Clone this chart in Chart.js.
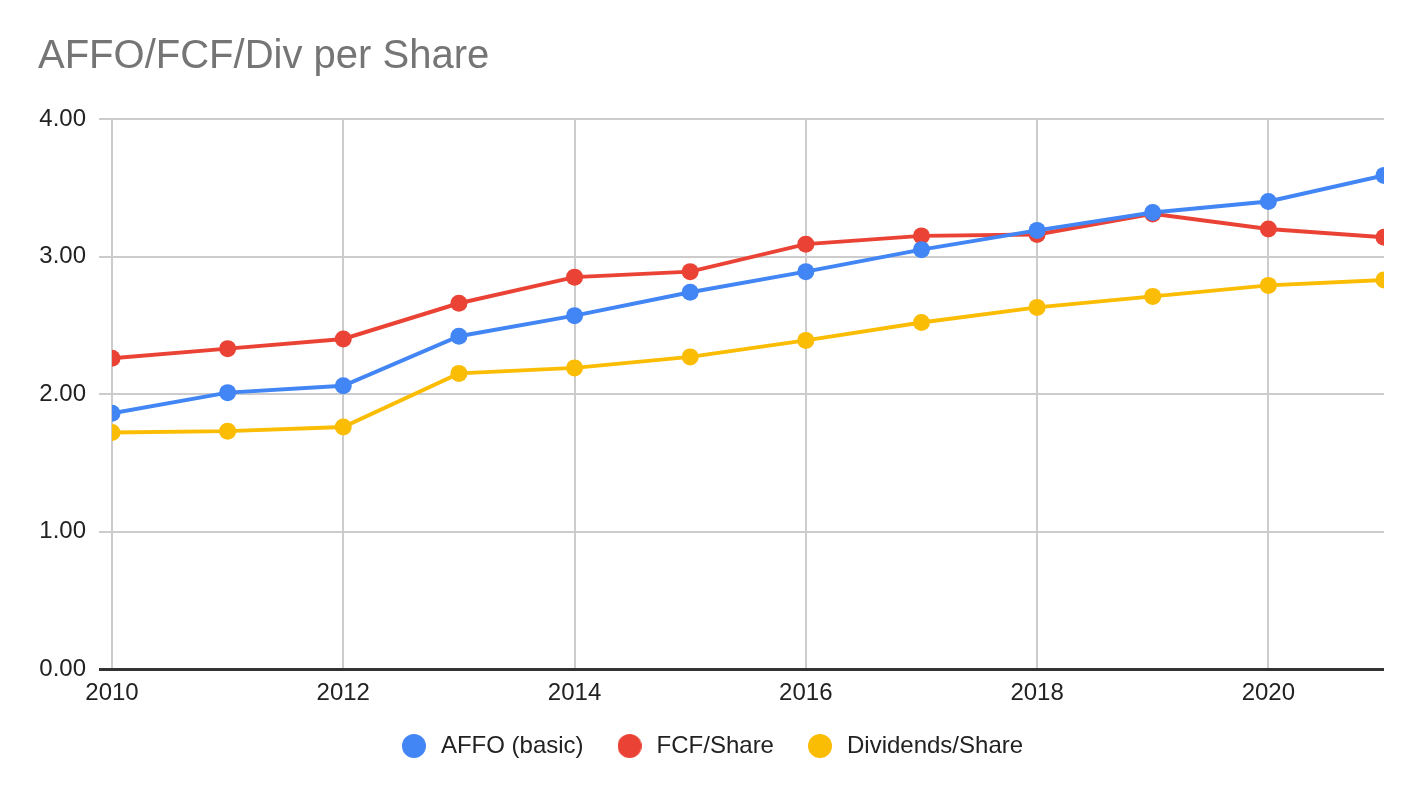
<!DOCTYPE html>
<html>
<head>
<meta charset="utf-8">
<script src="https://cdn.jsdelivr.net/npm/chart.js@4/dist/chart.umd.min.js"></script>
<style>
  html, body { margin: 0; padding: 0; background: #fff; }
  #wrap { width: 1424px; height: 798px; }
</style>
</head>
<body>
<div id="wrap"><canvas id="chart"></canvas></div>
<script>
'use strict';

const years = [2010, 2011, 2012, 2013, 2014, 2015, 2016, 2017, 2018, 2019, 2020, 2021];
const affo_basic = [1.86, 2.01, 2.06, 2.42, 2.57, 2.74, 2.89, 3.05, 3.19, 3.32, 3.40, 3.59];
const fcf_share = [2.26, 2.33, 2.40, 2.66, 2.85, 2.89, 3.09, 3.15, 3.16, 3.31, 3.20, 3.14];
const dividends_share = [1.72, 1.73, 1.76, 2.15, 2.19, 2.27, 2.39, 2.52, 2.63, 2.71, 2.79, 2.83];
const y_ticks = [0, 1, 2, 3, 4];

const font_family = "'Liberation Sans', Arial, sans-serif";

const make_series = (label, values, color) => ({
    label: label,
    data: years.map((year, i) => ({ x: year, y: values[i] })),
    borderColor: color,
    backgroundColor: color,
    borderWidth: 4,
    pointRadius: 8.5,
    pointHoverRadius: 8.5,
    pointBorderWidth: 0,
    tension: 0
});

// legend dot: a 24px circle drawn on a small canvas, so the box can be wider than the dot
const make_dot = color => {
    const dot = document.createElement('canvas');
    dot.width = 24;
    dot.height = 24;
    const c = dot.getContext('2d');
    c.fillStyle = color;
    c.beginPath();
    c.arc(12, 12, 12, 0, Math.PI * 2);
    c.fill();
    return dot;
};

new Chart(document.querySelector('#chart'), {
    type: 'line',
    data: {
        datasets: [
            make_series('AFFO (basic)', affo_basic, '#4285F4'),
            make_series('FCF/Share', fcf_share, '#EA4335'),
            make_series('Dividends/Share', dividends_share, '#FBBC04')
        ]
    },
    options: {
        responsive: true,
        maintainAspectRatio: false,
        animation: false,
        devicePixelRatio: 1,
        layout: { padding: { left: 38, right: 40, top: 0, bottom: 30 } },
        plugins: {
            title: {
                display: true,
                text: 'AFFO/FCF/Div per Share',
                align: 'start',
                color: '#757575',
                font: { family: font_family, size: 40, weight: 'normal' },
                padding: { top: 33, bottom: 38 }
            },
            legend: {
                position: 'bottom',
                labels: {
                    usePointStyle: true,
                    pointStyleWidth: 30,
                    boxHeight: 24,
                    color: '#222',
                    padding: 31,
                    font: { family: font_family, size: 24 },
                    generateLabels: chart => {
                        const items = Chart.defaults.plugins.legend.labels.generateLabels(chart);
                        return items.map(item => {
                            item.pointStyle = make_dot(chart.data.datasets[item.datasetIndex].borderColor);
                            return item;
                        });
                    }
                }
            },
            tooltip: { enabled: false }
        },
        scales: {
            x: {
                type: 'linear',
                min: years[0],
                max: years[years.length - 1],
                afterFit: scale => { scale.height = 34; },
                ticks: {
                    stepSize: 2,
                    includeBounds: false,
                    padding: 10,
                    color: '#222',
                    font: { family: font_family, size: 24 },
                    callback: value => String(value)
                },
                grid: { color: '#cccccc', lineWidth: 2, drawTicks: false },
                border: { display: false }
            },
            y: {
                min: y_ticks[0],
                max: y_ticks[y_ticks.length - 1],
                afterFit: scale => { scale.width = 74; },
                afterBuildTicks: scale => { scale.ticks = y_ticks.map(v => ({ value: v })); },
                ticks: {
                    padding: 13,
                    color: '#222',
                    font: { family: font_family, size: 24 },
                    callback: value => value.toFixed(2)
                },
                grid: {
                    color: ctx => ctx.tick && ctx.tick.value === 0 ? '#333333' : '#cccccc',
                    lineWidth: ctx => ctx.tick && ctx.tick.value === 0 ? 3 : 2,
                    tickLength: 13
                },
                border: { display: false }
            }
        }
    }
});
</script>
</body>
</html>
